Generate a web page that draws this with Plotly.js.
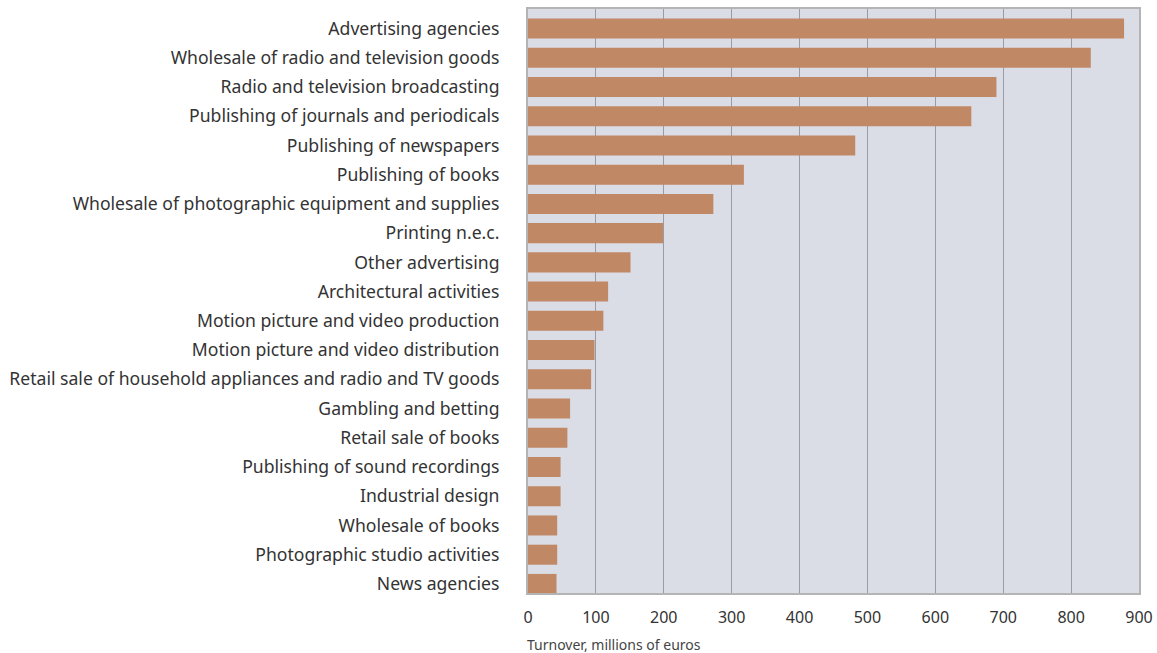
<!DOCTYPE html>
<html>
<head>
<meta charset="utf-8">
<script src="https://cdn.plot.ly/plotly-3.0.1.min.js"></script>
<style>
html,body{margin:0;padding:0;background:#fff;}
#chart{width:1157px;height:653px;}
</style>
</head>
<body>
<div id="chart"></div>
<script>
const categories = [
  "Advertising agencies",
  "Wholesale of radio and television goods",
  "Radio and television broadcasting",
  "Publishing of journals and periodicals",
  "Publishing of newspapers",
  "Publishing of books",
  "Wholesale of photographic equipment and supplies",
  "Printing n.e.c.",
  "Other advertising",
  "Architectural activities",
  "Motion picture and video production",
  "Motion picture and video distribution",
  "Retail sale of household appliances and radio and TV goods",
  "Gambling and betting",
  "Retail sale of books",
  "Publishing of sound recordings",
  "Industrial design",
  "Wholesale of books",
  "Photographic studio activities",
  "News agencies"
];
const turnover = [878, 829, 690, 653, 482, 318, 273, 199, 151, 118, 111, 98, 93, 62, 58, 48, 48, 43, 43, 42];
const tickValues = [0, 100, 200, 300, 400, 500, 600, 700, 800, 900];
const axisTitle = "Turnover, millions of euros";

const trace = {
  type: 'bar',
  orientation: 'h',
  y: categories,
  x: turnover,
  marker: {color: '#c18866', line: {width: 0}},
  hoverinfo: 'x+y'
};

const layout = {
  width: 1157,
  height: 653,
  margin: {l: 528, r: 18, t: 9, b: 60},
  paper_bgcolor: '#ffffff',
  plot_bgcolor: '#dadce6',
  font: {family: '"Noto Sans", "Open Sans", sans-serif', color: '#333333'},
  bargap: 0.315,
  showlegend: false,
  xaxis: {
    range: [0, 900],
    tickvals: tickValues,
    ticktext: tickValues.map(String),
    showgrid: true,
    gridcolor: '#9a9ca3',
    gridwidth: 1,
    zeroline: false,
    showline: true,
    linecolor: '#b4b4b4',
    linewidth: 2,
    mirror: true,
    ticks: '',
    tickfont: {size: 16, color: '#333333'},
    ticklabelstandoff: 9
  },
  yaxis: {
    range: [19.31, -0.667],
    showgrid: false,
    zeroline: false,
    showline: true,
    linecolor: '#b4b4b4',
    linewidth: 2,
    mirror: true,
    ticks: '',
    tickfont: {size: 17.6, color: '#333333'},
    ticklabelstandoff: 23
  },
  annotations: [{
    text: axisTitle,
    xref: 'paper', yref: 'paper',
    x: 0, y: 0,
    xanchor: 'left', yanchor: 'top',
    yshift: -40,
    xshift: -3,
    showarrow: false,
    font: {size: 14, color: '#444444'}
  }]
};

Plotly.newPlot('chart', [trace], layout, {displayModeBar: false, staticPlot: true});
</script>
</body>
</html>
